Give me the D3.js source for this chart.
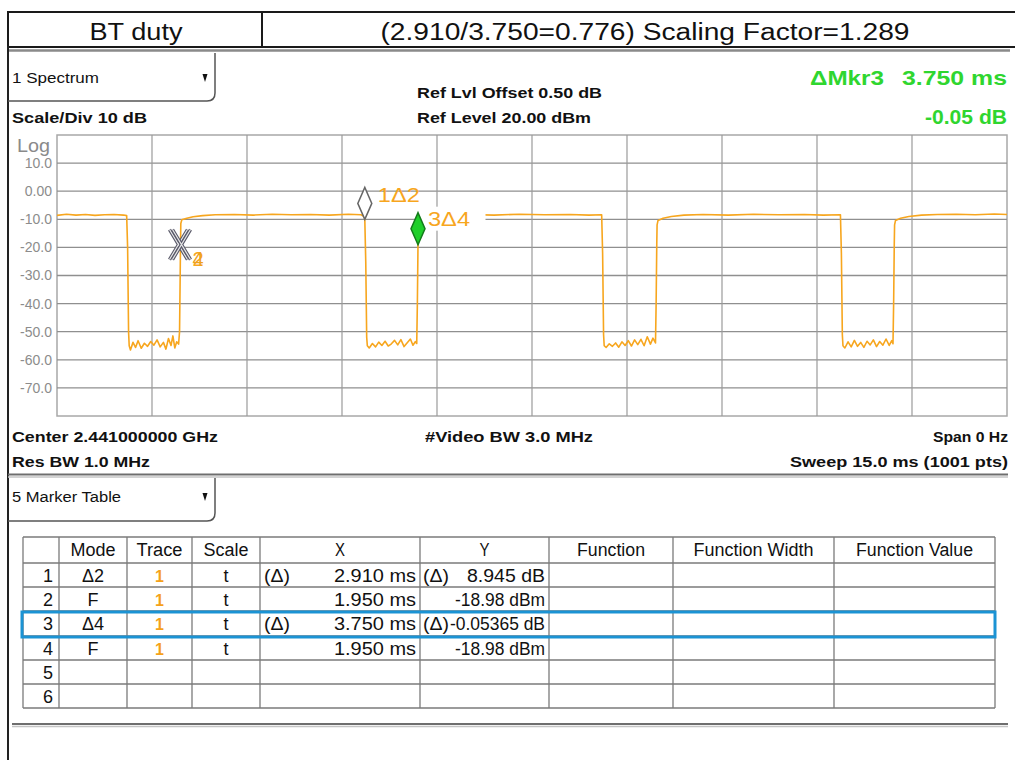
<!DOCTYPE html>
<html>
<head>
<meta charset="utf-8">
<script src="https://cdn.jsdelivr.net/npm/d3@7/dist/d3.min.js"></script>
<style>
  html, body { margin: 0; padding: 0; background: #fff; }
  svg { display: block; font-family: "Liberation Sans", Arial, sans-serif; }
</style>
</head>
<body>
<svg id="chart" width="1015" height="760"></svg>
<script>
// ---------------- DATA ----------------
const headerLeft = "BT duty";
const headerRight = "(2.910/3.750=0.776) Scaling Factor=1.289";

// y axis (dBm), 10 dB/div, ref level 20 dBm
const yTickValues = [10, 0, -10, -20, -30, -40, -50, -60, -70];
const yTickLabels = ["10.0", "0.00", "-10.0", "-20.0", "-30.0", "-40.0", "-50.0", "-60.0", "-70.0"];
// x axis: sweep 15 ms, 10 divisions
const xGridTicks = [1.5, 3, 4.5, 6, 7.5, 9, 10.5, 12, 13.5];

// trace: time (ms) and level (dBm)
const traceTime = [
  0, 0.15, 0.3, 0.45, 0.6, 0.75, 0.9, 1.05, 1.10,
  1.115, 1.13, 1.14,
  1.16, 1.2, 1.24, 1.28, 1.33, 1.38, 1.43, 1.48, 1.53, 1.58, 1.63, 1.68, 1.72, 1.76, 1.8, 1.83, 1.86, 1.89, 1.92,
  1.935, 1.945, 1.95, 1.955, 1.97,
  2.05, 2.15, 2.3, 2.5,
  2.8, 3.1, 3.4, 3.7, 4.0, 4.3, 4.6, 4.8, 4.85, 4.86,
  4.875, 4.89, 4.9,
  4.93, 4.98, 5.03, 5.08, 5.13, 5.18, 5.23, 5.28, 5.33, 5.38, 5.43, 5.48, 5.53, 5.58, 5.62, 5.66, 5.68,
  5.69, 5.70, 5.705, 5.72,
  5.8, 5.95, 6.15,
  6.5, 6.9, 7.3, 7.7, 8.1, 8.4, 8.6,
  8.615, 8.63, 8.64,
  8.67, 8.72, 8.77, 8.82, 8.87, 8.92, 8.97, 9.02, 9.07, 9.12, 9.17, 9.22, 9.27, 9.32, 9.37, 9.41, 9.45,
  9.46, 9.47, 9.475, 9.49,
  9.57, 9.7, 9.9,
  10.2, 10.6, 11.0, 11.4, 11.8, 12.1, 12.37,
  12.385, 12.4, 12.41,
  12.44, 12.49, 12.54, 12.59, 12.64, 12.69, 12.74, 12.79, 12.84, 12.89, 12.94, 12.99, 13.04, 13.09, 13.14, 13.18, 13.2,
  13.21, 13.22, 13.225, 13.24,
  13.32, 13.45, 13.65,
  13.9, 14.2, 14.5, 14.8, 15.0
];
const traceLevel = [
  -8.6, -8.2, -8.5, -8.3, -8.6, -8.4, -8.3, -8.5, -8.7,
  -20, -50, -55,
  -56.5, -53.8, -55.6, -53.2, -55.9, -54.1, -55.2, -53.5, -54.8, -52.9, -55.4, -53.8, -56.2, -52.4, -54.9, -51.5, -55.8, -53.6, -54.4,
  -50, -30, -18.98, -11.5, -10.2,
  -9.6, -9.1, -8.7, -8.4,
  -8.3, -8.5, -8.2, -8.4, -8.3, -8.5, -8.2, -8.4, -9.0, -10.03,
  -25, -52, -55,
  -55.8, -54.2, -55.4, -53.7, -54.9, -53.4, -55.1, -54.3, -53.1, -54.7, -52.8, -55.3, -53.9, -52.6, -54.8, -53.5, -54.2,
  -40, -19.03, -12, -10.3,
  -9.5, -8.9, -8.5,
  -8.3, -8.5, -8.2, -8.4, -8.3, -8.5, -8.4,
  -22, -51, -55,
  -55.6, -54.3, -55.2, -54.0, -55.5, -53.6, -54.9, -53.2, -55.1, -52.9, -54.6, -52.7, -55.0, -51.8, -54.4, -52.3, -54.0,
  -40, -19, -12, -10.4,
  -9.6, -9.0, -8.5,
  -8.3, -8.5, -8.2, -8.4, -8.3, -8.5, -8.4,
  -22, -51, -55,
  -55.8, -53.6, -55.4, -53.1, -55.2, -53.8, -55.6, -53.4, -54.7, -52.9, -55.3, -53.5, -54.8, -52.6, -54.9, -53.2, -54.3,
  -40, -19, -12, -10.4,
  -9.6, -9.0, -8.5,
  -8.3, -8.2, -8.4, -8.1, -8.3
];

// marker table
const tableHeaders = ["", "Mode", "Trace", "Scale", "X", "Y", "Function", "Function Width", "Function Value"];
const markerNo = ["1", "2", "3", "4", "5", "6"];
const markerMode = ["Δ2", "F", "Δ4", "F", "", ""];
const markerTrace = ["1", "1", "1", "1", "", ""];
const markerScale = ["t", "t", "t", "t", "", ""];
const markerXPrefix = ["(Δ)", "", "(Δ)", "", "", ""];
const markerXText = ["2.910 ms", "1.950 ms", "3.750 ms", "1.950 ms", "", ""];
const markerYPrefix = ["(Δ)", "", "(Δ)", "", "", ""];
const markerYText = ["8.945 dB", "-18.98 dBm", "-0.05365 dB", "-18.98 dBm", "", ""];

// marker values on the screen (ms, dBm)
const fixedMarkerTime = 1.950, fixedMarkerLevel = -18.98;   // markers 2 and 4
const deltaMarkerTime = [2.910, 3.750];                      // markers 1 and 3
const deltaMarkerLevel = [8.945, -0.05365];

// ---------------- DRAW ----------------
const svg = d3.select("#chart");
const FONT = '"Liberation Sans", Arial, sans-serif';

function label(parent, str, x, y, o = {}) {
  const t = parent.append("text")
    .attr("x", x).attr("y", y).text(str)
    .attr("font-family", FONT)
    .attr("font-size", o.size || 15)
    .attr("font-weight", o.bold ? "bold" : "normal")
    .attr("text-anchor", o.anchor || "start")
    .attr("fill", o.fill || "#111");
  if (o.w) t.attr("textLength", o.w).attr("lengthAdjust", "spacingAndGlyphs");
  return t;
}

// --- header box
svg.append("rect").attr("x", 8).attr("y", 12).attr("width", 1020).attr("height", 35)
  .attr("fill", "#fff").attr("stroke", "#1a1a1a").attr("stroke-width", 2);
svg.append("line").attr("x1", 262).attr("x2", 262).attr("y1", 12).attr("y2", 47)
  .attr("stroke", "#1a1a1a").attr("stroke-width", 2);
label(svg, headerLeft, 136, 40, { size: 23, anchor: "middle", w: 93 });
label(svg, headerRight, 645, 40, { size: 23, anchor: "middle", w: 529 });

// panel frame lines
svg.append("line").attr("x1", 8).attr("x2", 1010).attr("y1", 50.5).attr("y2", 50.5)
  .attr("stroke", "#8a8a8a").attr("stroke-width", 2.5);
svg.append("line").attr("x1", 8).attr("x2", 8).attr("y1", 46).attr("y2", 760)
  .attr("stroke", "#222").attr("stroke-width", 2);
// separators
[[474.5, 8, 1008], [724, 12, 1008]].forEach(([yy, a, b]) => {
  svg.append("line").attr("x1", a).attr("x2", b).attr("y1", yy).attr("y2", yy)
    .attr("stroke", "#6e6e6e").attr("stroke-width", 2);
  svg.append("line").attr("x1", a).attr("x2", b).attr("y1", yy + 2.5).attr("y2", yy + 2.5)
    .attr("stroke", "#c4c4c4").attr("stroke-width", 1.5);
});

// dropdown boxes
function dropBox(y0, y1, text, ty) {
  svg.append("path")
    .attr("d", `M8,${y1} L207,${y1} Q215,${y1} 215,${y1 - 8} L215,${y0}`)
    .attr("fill", "none").attr("stroke", "#555").attr("stroke-width", 1.5);
  svg.append("path")
    .attr("d", `M202.5,${ty - 4} L207.5,${ty - 4} L205,${ty + 4} Z`)
    .attr("fill", "#111");
  label(svg, text, 12, ty + 5, { size: 15.5, w: text === "1 Spectrum" ? 87 : 109 });
}
dropBox(53, 101, "1 Spectrum", 78);
dropBox(478, 521, "5 Marker Table", 497);

// annotation texts
label(svg, "Scale/Div 10 dB", 12, 123, { size: 15.5, bold: true, w: 135 });
label(svg, "Log", 17, 152, { size: 19, fill: "#8a8a8a", w: 33 });
label(svg, "Ref Lvl Offset 0.50 dB", 417, 98, { size: 15.5, bold: true, w: 185 });
label(svg, "Ref Level 20.00 dBm", 417, 123, { size: 15.5, bold: true, w: 174 });
const GREEN = "#2fd62f";
label(svg, "ΔMkr3", 810, 84.5, { size: 21, bold: true, fill: GREEN, w: 74 });
label(svg, "3.750 ms", 1007, 84.5, { size: 21, bold: true, fill: GREEN, anchor: "end", w: 105 });
label(svg, "-0.05 dB", 1007, 124, { size: 21, bold: true, fill: GREEN, anchor: "end", w: 82 });
label(svg, "Center 2.441000000 GHz", 12, 442, { size: 15.5, bold: true, w: 206 });
label(svg, "#Video BW 3.0 MHz", 425, 442, { size: 15.5, bold: true, w: 168 });
label(svg, "Span 0 Hz", 1008, 442, { size: 15.5, bold: true, anchor: "end", w: 75 });
label(svg, "Res BW 1.0 MHz", 12, 467, { size: 15.5, bold: true, w: 138 });
label(svg, "Sweep 15.0 ms (1001 pts)", 1008, 467, { size: 15.5, bold: true, anchor: "end", w: 218 });

// --- plot
const x = d3.scaleLinear().domain([0, 15]).range([57, 1007]);
const y = d3.scaleLinear().domain([-80, 20]).range([416, 135]);

const plot = svg.append("g");
plot.append("rect").attr("x", x(0)).attr("y", y(20)).attr("width", x(15) - x(0)).attr("height", y(-80) - y(20))
  .attr("fill", "#fff").attr("stroke", "#a8a8a8").attr("stroke-width", 1.5);
plot.selectAll("line.hg").data(yTickValues).join("line").attr("class", "hg")
  .attr("x1", x(0)).attr("x2", x(15)).attr("y1", d => y(d)).attr("y2", d => y(d))
  .attr("stroke", "#8f8f8f").attr("stroke-width", 1.3);
plot.selectAll("line.vg").data(xGridTicks).join("line").attr("class", "vg")
  .attr("x1", d => x(d)).attr("x2", d => x(d)).attr("y1", y(20)).attr("y2", y(-80))
  .attr("stroke", "#9a9a9a").attr("stroke-width", 1.2);

const yAxis = d3.axisLeft(y).tickValues(yTickValues)
  .tickFormat((d, i) => yTickLabels[i]).tickSize(0).tickPadding(0);
const yg = svg.append("g").attr("transform", "translate(52,0)").call(yAxis);
yg.select(".domain").remove();
yg.selectAll("text").attr("font-family", FONT).attr("font-size", 14).attr("fill", "#8c8c8c");

// trace
const ORANGE = "#f7a61e";
const pts = traceTime.map((t, i) => [t, traceLevel[i]]);
plot.append("path").datum(pts)
  .attr("d", d3.line().x(d => x(d[0])).y(d => y(d[1])))
  .attr("fill", "none").attr("stroke", ORANGE).attr("stroke-width", 1.6)
  .attr("stroke-linejoin", "round");

// markers
const m1t = fixedMarkerTime + deltaMarkerTime[0], m1v = fixedMarkerLevel + deltaMarkerLevel[0];
const m3t = fixedMarkerTime + deltaMarkerTime[1], m3v = fixedMarkerLevel + deltaMarkerLevel[1];
function diamond(cx, by, fill, stroke) {
  plot.append("path")
    .attr("d", `M${cx},${by} L${cx + 7},${by - 16} L${cx},${by - 32} L${cx - 7},${by - 16} Z`)
    .attr("fill", fill).attr("stroke", stroke).attr("stroke-width", 1.5);
}
// label background hides the trace behind the 3Δ4 text
plot.append("rect").attr("x", x(m3t) + 1.5).attr("y", y(m3v) - 38).attr("width", 66).attr("height", 24).attr("fill", "#fff");
diamond(x(m1t), y(m1v), "#fff", "#666");
diamond(x(m3t), y(m3v), "#1fcf2a", "#137a1a");
label(plot, "1Δ2", x(m1t) + 13, y(m1v) - 17, { size: 21, fill: ORANGE, w: 42 });
label(plot, "3Δ4", x(m3t) + 10, y(m3v) - 19, { size: 21, fill: ORANGE, w: 42 });

// fixed markers 2 & 4 (X shape)
const fx = x(fixedMarkerTime), fy = y(fixedMarkerLevel);
[[-2, 0], [1, 0]].forEach(([dx, dy]) => {
  const cx = fx + dx, cy = fy + dy;
  const d = `M${cx - 9},${cy - 15} L${cx + 9},${cy + 15} M${cx + 9},${cy - 15} L${cx - 9},${cy + 15}`;
  plot.append("path").attr("d", d).attr("stroke", "#5a5a6a").attr("stroke-width", 3.4).attr("fill", "none");
  plot.append("path").attr("d", d).attr("stroke", "#e8e8e8").attr("stroke-width", 1.2).attr("fill", "none");
});
label(plot, "2", fx + 12, fy + 21, { size: 20, fill: ORANGE });
label(plot, "4", fx + 12, fy + 21, { size: 20, fill: "#eea21c" });

// --- marker table
const colX = [23, 59, 127, 192, 260, 420, 549, 673, 834, 995];
const rowY = [537, 563, 587, 611, 636, 660, 684, 708];
const tbl = svg.append("g");
tbl.selectAll("line.rl").data(rowY).join("line").attr("class", "rl")
  .attr("x1", colX[0]).attr("x2", colX[colX.length - 1]).attr("y1", d => d).attr("y2", d => d)
  .attr("stroke", "#7a7a7a").attr("stroke-width", 1.3);
tbl.selectAll("line.cl").data(colX).join("line").attr("class", "cl")
  .attr("x1", d => d).attr("x2", d => d).attr("y1", rowY[0]).attr("y2", rowY[rowY.length - 1])
  .attr("stroke", "#7a7a7a").attr("stroke-width", 1.3);

const hdrW = [0, 45, 46, 45, 10, 10, 68, 120, 117];
tableHeaders.forEach((h, i) => {
  if (!h) return;
  const cx = (colX[i] + colX[i + 1]) / 2;
  label(tbl, h, cx, 556, { size: 18, anchor: "middle", w: hdrW[i] });
});
markerNo.forEach((n, r) => {
  const by = (rowY[r + 1] + rowY[r + 2]) / 2 + 6.5;
  label(tbl, n, 53, by, { size: 18, anchor: "end" });
  if (markerMode[r]) label(tbl, markerMode[r], (colX[1] + colX[2]) / 2, by, { size: 18, anchor: "middle" });
  if (markerTrace[r]) label(tbl, markerTrace[r], (colX[2] + colX[3]) / 2, by, { size: 16, anchor: "middle", fill: "#f5a11a", bold: true });
  if (markerScale[r]) label(tbl, markerScale[r], (colX[3] + colX[4]) / 2, by, { size: 18, anchor: "middle" });
  if (markerXPrefix[r]) label(tbl, markerXPrefix[r], 264, by, { size: 18, w: 26 });
  if (markerXText[r]) label(tbl, markerXText[r], 416, by, { size: 18, anchor: "end", w: 82 });
  if (markerYPrefix[r]) label(tbl, markerYPrefix[r], 423, by, { size: 18, w: 26 });
  if (markerYText[r]) {
    const w = markerYText[r].length > 10 ? 95 : (markerYText[r].length > 8 ? 90 : 78);
    label(tbl, markerYText[r], 545, by, { size: 18, anchor: "end", w: w });
  }
});
// active marker highlight (row 3)
tbl.append("rect").attr("x", 22).attr("y", rowY[3] + 1).attr("width", 973).attr("height", rowY[4] - rowY[3])
  .attr("fill", "none").attr("stroke", "#1b93d4").attr("stroke-width", 3);
</script>
</body>
</html>
